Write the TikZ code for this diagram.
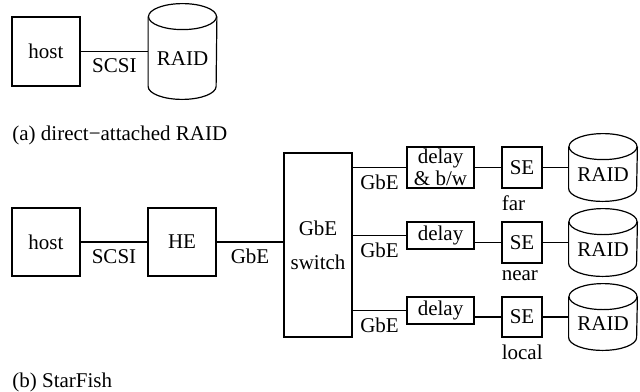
\documentclass[tikz,border=0pt]{standalone}
\usepackage{fontspec}
\setmainfont{Liberation Serif}
\usetikzlibrary{positioning}

\begin{document}
\begin{tikzpicture}[
  x=0.5pt, y=-0.5pt,
  every node/.style={align=center, font=\fontsize{10.5}{11}\selectfont},
  box/.style={draw, line width=0.6pt, inner sep=0pt},
  raid/.style={minimum width=34pt, inner sep=0pt, label={[yshift=-3.5pt]center:RAID}},
  wire/.style={line width=0.6pt}
]
  \useasboundingbox (0,0) rectangle (640,391);

  % (a) direct-attached
  \node[box, minimum width=34pt, minimum height=34.5pt] (hostA) at (46,51.5) {host};
  \node[raid, minimum height=34.5pt] (raidA) at (182.5,51.5) {};
  \node[anchor=west, inner sep=0pt] (capA) at (12,135) {(a) direct−attached RAID};

  % (b) StarFish
  \node[box, minimum width=34pt, minimum height=34pt] (host) at (46,242) {host};
  \node[box, minimum width=34pt, minimum height=34pt] (he) at (182,242) {HE};
  \node[box, minimum width=34pt, minimum height=92pt] (switch) at (318,245) {GbE\\[6pt]switch};

  % delays
  \node[box, minimum width=33.5pt, minimum height=20.5pt] (dly1) at (440.5,167.5) {delay\\\& b/w};
  \node[box, minimum width=33.5pt, minimum height=13.5pt] (dly2) at (440.5,235.5) {delay};
  \node[box, minimum width=33.5pt, minimum height=13.5pt] (dly3) at (440.5,310.5) {delay};

  % storage ends
  \node[box, minimum width=20pt, minimum height=20.5pt] (se1) at (522,167.5) {SE};
  \node[box, minimum width=20pt, minimum height=20.5pt] (se2) at (522,242.5) {SE};
  \node[box, minimum width=20pt, minimum height=20pt] (se3) at (522,317) {SE};
  \node[anchor=north west, inner xsep=0pt] (far) at (se1.south west) {far};
  \node[anchor=north west, inner xsep=0pt] (near) at (se2.south west) {near};
  \node[anchor=north west, inner xsep=0pt] (local) at (se3.south west) {local};

  \node[raid, minimum height=20.5pt] (raid1) at (603,167.5) {};
  \node[raid, minimum height=20.5pt] (raid2) at (603,242.5) {};
  \node[raid, minimum height=20pt] (raid3) at (603,317) {};

  \node[anchor=west, inner sep=0pt] (capB) at (12,382) {(b) StarFish};

  % Links
  \draw[wire] (hostA) -- node[below] {SCSI} (raidA);
  \draw[wire] (host) -- node[below] {SCSI} (he);
  \draw[wire] (he.east) -- node[below] {GbE} (he.east -| switch.west);
  \draw[wire] (dly1.west -| switch.east) -- node[below] {GbE} (dly1.west);
  \draw[wire] (dly2.west -| switch.east) -- node[below] {GbE} (dly2.west);
  \draw[wire] (dly3.west -| switch.east) -- node[below] {GbE} (dly3.west);
  \draw[wire] (dly1) -- (se1);
  \draw[wire] (se2.west -| dly2.east) -- (se2.west);
  \draw[wire] (se3.west -| dly3.east) -- (se3.west);
  \draw[wire] (se1) -- (raid1);
  \draw[wire] (se2) -- (raid2);
  \draw[wire] (se3) -- (raid3);

  % Disks
  \foreach \r in {raidA, raid1, raid2, raid3} {
    \draw[wire] (\r.north) ellipse [x radius=17pt, y radius=6.5pt];
    \draw[wire] (\r.north west) -- (\r.south west)
      arc [start angle=180, end angle=360, x radius=17pt, y radius=6.5pt] -- (\r.north east);
  }
\end{tikzpicture}
\end{document}
